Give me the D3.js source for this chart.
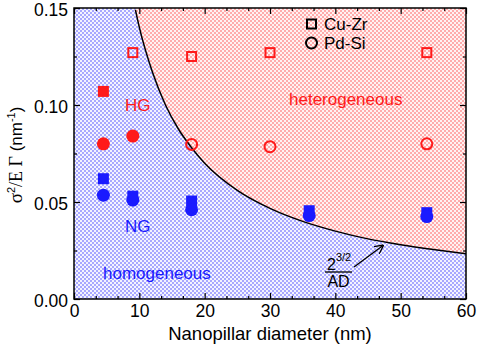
<!DOCTYPE html>
<html>
<head>
	<title>Nanopillar chart</title>
	<meta charset='utf-8'>
	<style>
		body { margin: 0; background: #fff; }
		svg text { font-family: 'Liberation Sans', Arial, sans-serif; }
		.tick > text { fill: #000; }
		.tick > line { stroke: #000; stroke-width: 1.2px; }
		.axis path.domain { display: none; }
		.frame { fill: none; stroke: #000; stroke-width: 1.5px; }
		.boundary { fill: none; stroke: #000; stroke-width: 1.5px; }
		.serif { font-family: 'Liberation Serif', 'Times New Roman', serif; }
	</style>
</head>
<body>

<script src='https://d3js.org/d3.v7.min.js'></script>
<script>
	'use strict';

	// axis ticks
	const xTicks = [0, 10, 20, 30, 40, 50, 60];
	const yTicks = [0, 0.05, 0.10, 0.15];

	// Cu-Zr (squares)
	const cuZrHGDiam = [4.5];
	const cuZrHGVal = [0.107];
	const cuZrHetDiam = [9, 18, 30, 54];
	const cuZrHetVal = [0.127, 0.125, 0.127, 0.127];
	const cuZrNGDiam = [4.5, 9, 18, 36, 54];
	const cuZrNGVal = [0.062, 0.053, 0.0505, 0.0455, 0.0445];

	// Pd-Si (circles)
	const pdSiHGDiam = [4.5, 9];
	const pdSiHGVal = [0.080, 0.084];
	const pdSiHetDiam = [18, 30, 54];
	const pdSiHetVal = [0.0797, 0.0785, 0.080];
	const pdSiNGDiam = [4.5, 9, 18, 36, 54];
	const pdSiNGVal = [0.0535, 0.051, 0.046, 0.043, 0.0425];

	// boundary 2^(3/2)/AD
	const boundaryDiam = [9.4, 10, 12, 14, 16, 18, 20, 25, 30, 35, 40, 45, 50, 55, 60];
	const boundaryVal = [0.149, 0.140, 0.117, 0.100, 0.0875, 0.078, 0.070, 0.056, 0.0467, 0.040, 0.035, 0.031, 0.028, 0.0255, 0.0233];

	const margin = {top: 8, right: 11, bottom: 47, left: 74};
	const W = 477, H = 346;
	const width = W - margin.left - margin.right;
	const height = H - margin.top - margin.bottom;

	const xScale = d3.scaleLinear().domain([0, 60]).range([0, width]);
	const yScale = d3.scaleLinear().domain([0, 0.15]).range([height, 0]);

	const root = d3.select('body').append('svg')
		.attr('width', W)
		.attr('height', H);

	// dotted fills
	const defs = root.append('defs');
	function checker(id, dark, light) {
		const p = defs.append('pattern')
			.attr('id', id)
			.attr('patternUnits', 'userSpaceOnUse')
			.attr('width', 4).attr('height', 4);
		p.append('rect').attr('width', 4).attr('height', 4).attr('fill', light);
		p.append('rect').attr('width', 2).attr('height', 2).attr('fill', dark);
		p.append('rect').attr('x', 2).attr('y', 2).attr('width', 2).attr('height', 2).attr('fill', dark);
	}
	checker('blueDots', '#a8a8ff', '#f4f4ff');
	checker('redDots', '#ffabab', '#fff2f2');

	const svg = root.append('g')
		.attr('transform', 'translate(' + margin.left + ',' + margin.top + ')');

	defs.append('clipPath').attr('id', 'plotClip')
		.append('rect').attr('width', width).attr('height', height);

	const plot = svg.append('g').attr('clip-path', 'url(#plotClip)');

	plot.append('rect')
		.attr('width', width).attr('height', height)
		.attr('fill', 'url(#blueDots)');

	const boundary = boundaryDiam.map(function(d, i) { return [d, boundaryVal[i]]; });

	plot.append('path')
		.datum(boundary)
		.attr('fill', 'url(#redDots)')
		.attr('d', d3.area()
			.curve(d3.curveMonotoneX)
			.x(function(d) { return xScale(d[0]); })
			.y0(yScale(0.15))
			.y1(function(d) { return yScale(d[1]); }));

	plot.append('path')
		.datum(boundary)
		.attr('class', 'boundary')
		.attr('d', d3.line()
			.curve(d3.curveMonotoneX)
			.x(function(d) { return xScale(d[0]); })
			.y(function(d) { return yScale(d[1]); }));

	// axes with inward ticks on all sides
	const xMinor = [];
	xTicks.slice(1).forEach(function(t) {
		xMinor.push(t - 20 / 3, t - 10 / 3);
	});
	const yMinor = yTicks.slice(1).map(function(t) { return t - 0.025; });

	function addAxis(axisFn, scale, ticks, minor, transform, showLabels) {
		const g = svg.append('g').attr('class', 'axis').attr('transform', transform);
		g.append('g').call(axisFn(scale).tickValues(minor).tickSize(-3).tickFormat(''));
		const major = axisFn(scale).tickValues(ticks).tickSize(-6).tickPadding(6);
		if (scale === yScale) major.tickFormat(d3.format('.2f'));
		if (!showLabels) major.tickFormat('');
		g.append('g').call(major);
		return g;
	}
	addAxis(d3.axisBottom, xScale, xTicks, xMinor, 'translate(0,' + height + ')', true);
	addAxis(d3.axisTop, xScale, xTicks, xMinor, 'translate(0,0)', false);
	const yAxisG = addAxis(d3.axisLeft, yScale, yTicks, yMinor, 'translate(0,0)', true);
	addAxis(d3.axisRight, yScale, yTicks, yMinor, 'translate(' + width + ',0)', false);

	svg.selectAll('.axis g').attr('font-size', 17.5).attr('font-family', null);
	yAxisG.selectAll('.tick text').attr('dy', '0.45em');

	svg.append('rect').attr('class', 'frame')
		.attr('width', width).attr('height', height);

	// markers
	const red = '#ff1a1a';
	const blue = '#1a1aff';
	function pts(dx, dy) { return dx.map(function(d, i) { return [d, dy[i]]; }); }

	function squares(data, color, filled) {
		const s = filled ? 11 : 9;
		svg.append('g').selectAll('rect').data(data).join('rect')
			.attr('x', function(d) { return xScale(d[0]) - s / 2; })
			.attr('y', function(d) { return yScale(d[1]) - s / 2; })
			.attr('width', s).attr('height', s)
			.attr('fill', filled ? color : 'none')
			.attr('stroke', color)
			.attr('stroke-width', filled ? 0 : 2);
	}
	function circles(data, color, filled) {
		svg.append('g').selectAll('circle').data(data).join('circle')
			.attr('cx', function(d) { return xScale(d[0]); })
			.attr('cy', function(d) { return yScale(d[1]); })
			.attr('r', filled ? 6.5 : 5.5)
			.attr('fill', filled ? color : 'none')
			.attr('stroke', color)
			.attr('stroke-width', filled ? 0 : 2);
	}

	squares(pts(cuZrHGDiam, cuZrHGVal), red, true);
	squares(pts(cuZrHetDiam, cuZrHetVal), red, false);
	circles(pts(pdSiHGDiam, pdSiHGVal), red, true);
	circles(pts(pdSiHetDiam, pdSiHetVal), red, false);
	squares(pts(cuZrNGDiam, cuZrNGVal), blue, true);
	circles(pts(pdSiNGDiam, pdSiNGVal), blue, true);

	// region labels (page coordinates)
	function label(x, y, txt, color, size) {
		root.append('text')
			.attr('x', x).attr('y', y)
			.attr('font-size', size || 17)
			.attr('fill', color)
			.text(txt);
	}
	label(125, 111, 'HG', red);
	label(289, 105, 'heterogeneous', red);
	label(125, 232, 'NG', blue);
	label(103, 279, 'homogeneous', blue);

	// legend
	root.append('rect').attr('x', 307).attr('y', 19.5).attr('width', 9).attr('height', 9)
		.attr('fill', 'none').attr('stroke', '#000').attr('stroke-width', 2);
	root.append('circle').attr('cx', 311.5).attr('cy', 43).attr('r', 5.5)
		.attr('fill', 'none').attr('stroke', '#000').attr('stroke-width', 2);
	label(324, 30, 'Cu-Zr', '#000');
	label(324, 49, 'Pd-Si', '#000');

	// 2^(3/2)/AD annotation
	const ann = root.append('g');
	const frac = ann.append('text').attr('x', 327).attr('y', 270).attr('font-size', 16);
	frac.append('tspan').text('2');
	frac.append('tspan').attr('dy', -9).attr('font-size', 11).text('3/2');
	ann.append('line').attr('x1', 325).attr('x2', 352).attr('y1', 272).attr('y2', 272)
		.attr('stroke', '#000').attr('stroke-width', 1.3);
	ann.append('text').attr('x', 338.5).attr('y', 287).attr('font-size', 16)
		.attr('text-anchor', 'middle').text('AD');

	defs.append('marker').attr('id', 'arrowHead')
		.attr('viewBox', '0 0 10 10').attr('refX', 9).attr('refY', 5)
		.attr('markerWidth', 9).attr('markerHeight', 9).attr('orient', 'auto')
		.attr('markerUnits', 'userSpaceOnUse')
		.append('path').attr('d', 'M0,0 L10,5 L0,10').attr('fill', 'none')
		.attr('stroke', '#000').attr('stroke-width', 1.5);
	ann.append('line').attr('x1', 354).attr('y1', 267).attr('x2', 383).attr('y2', 245.5)
		.attr('stroke', '#000').attr('stroke-width', 1.3)
		.attr('marker-end', 'url(#arrowHead)');

	// axis titles
	root.append('text')
		.attr('x', margin.left + width / 2).attr('y', 340)
		.attr('text-anchor', 'middle').attr('font-size', 18.5)
		.text('Nanopillar diameter (nm)');

	const yt = root.append('text')
		.attr('transform', 'translate(22,155) rotate(-90)')
		.attr('text-anchor', 'middle').attr('font-size', 17);
	yt.append('tspan').attr('class', 'serif').attr('font-size', 19).text('σ');
	yt.append('tspan').attr('dy', -7).attr('font-size', 11).text('2');
	yt.append('tspan').attr('dy', 7).attr('class', 'serif').attr('font-size', 18).text('/E Γ');
	yt.append('tspan').text(' (nm');
	yt.append('tspan').attr('dy', -7).attr('font-size', 11).text('-1');
	yt.append('tspan').attr('dy', 7).text(')');
</script>
</body>
</html>
